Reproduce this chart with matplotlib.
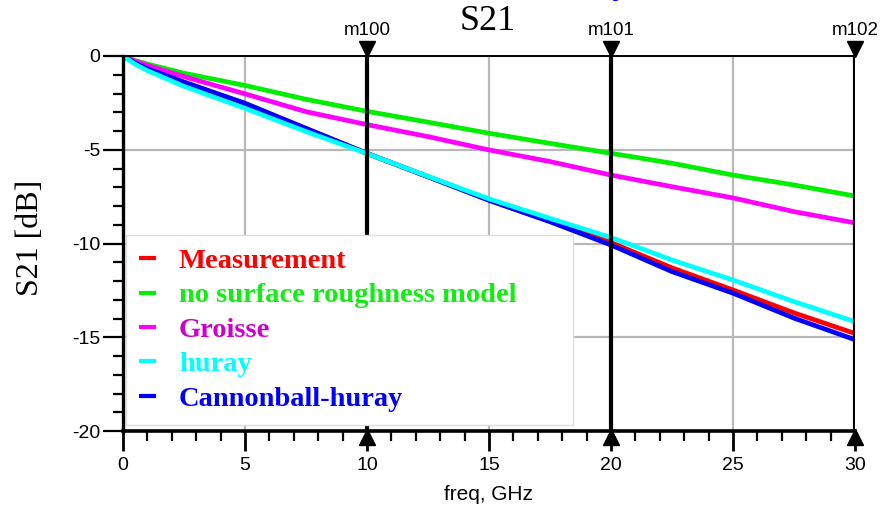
import matplotlib
matplotlib.use("Agg")
import matplotlib.pyplot as plt
import matplotlib.transforms as mtransforms
from matplotlib.ticker import MultipleLocator

# frequency points (GHz) and S21 values (dB)
freq = [0, 0.5, 1, 2.5, 5, 7.5, 10, 12.5, 15, 17.5, 20, 22.5, 25, 27.5, 30]
measurement = [0, -0.38, -0.68, -1.4, -2.55, -3.87, -5.2, -6.44, -7.68, -8.8, -9.95, -11.3, -12.48, -13.7, -14.8]
no_roughness = [0, -0.24, -0.43, -0.92, -1.57, -2.31, -2.95, -3.53, -4.12, -4.66, -5.19, -5.72, -6.35, -6.88, -7.47]
groisse = [0, -0.28, -0.5, -1.1, -2.02, -2.97, -3.66, -4.3, -5.01, -5.63, -6.35, -6.97, -7.57, -8.3, -8.9]
huray = [0, -0.44, -0.78, -1.62, -2.79, -4.03, -5.2, -6.42, -7.62, -8.66, -9.68, -10.88, -11.95, -13.1, -14.17]
cannonball = [0, -0.38, -0.68, -1.39, -2.52, -3.86, -5.19, -6.44, -7.7, -8.84, -10.08, -11.5, -12.65, -13.98, -15.13]

labels = ["Measurement", "no surface roughness model", "Groisse", "huray", "Cannonball-huray"]
line_colors = ["#ff0000", "#00ee00", "#ff00ff", "#00ffff", "#0000ff"]
text_colors = ["#ff0000", "#11ee11", "#cc00cc", "#00ffff", "#0000ff"]

markers = [10, 20, 30]
marker_names = ["m100", "m101", "m102"]

plt.rcParams['font.family'] = ['Liberation Sans', 'DejaVu Sans']
plt.rcParams['axes.unicode_minus'] = False

fig = plt.figure(figsize=(8.85, 5.12), dpi=100)
ax = fig.add_axes([123/885, 1 - 431/512, 732/885, 375/512])

series = [measurement, no_roughness, groisse, huray, cannonball]
order = [0, 1, 2, 4, 3]
handles = [None] * 5
for k in order:
    h, = ax.plot(freq, series[k], color=line_colors[k], lw=3.4, zorder=3,
                 solid_capstyle='butt', label=labels[k])
    handles[k] = h

ax.set_xlim(0, 30)
ax.set_ylim(-20, 0)
ax.xaxis.set_major_locator(MultipleLocator(5))
ax.xaxis.set_minor_locator(MultipleLocator(1))
ax.yaxis.set_major_locator(MultipleLocator(5))
ax.yaxis.set_minor_locator(MultipleLocator(1))
ax.grid(True, which='major', color='#b8b8b8', lw=1.6, zorder=1)
ax.set_axisbelow(True)

ax.tick_params(which='major', direction='out', length=14.4, width=1.6, color='black',
               labelsize=14, pad=2)
ax.tick_params(which='minor', direction='out', length=7.2, width=1.6, color='black')
ax.tick_params(axis='x', which='major', width=2.0, pad=4)

ax.spines['right'].set_visible(False)
ax.spines['left'].set_linewidth(2.4)
ax.spines['bottom'].set_linewidth(2.6)
ax.spines['top'].set_linewidth(1.4)
for s in ax.spines.values():
    s.set_zorder(4)

# markers
up = mtransforms.offset_copy(ax.transData, fig=fig, x=0, y=7, units='dots')
down = mtransforms.offset_copy(ax.transData, fig=fig, x=0, y=-6, units='dots')
for m, name in zip(markers, marker_names):
    ax.axvline(m, color='black', lw=3.0, zorder=5)
    ax.plot([m], [0], marker='v', color='black', markersize=12, clip_on=False, zorder=6,
            transform=up)
    ax.plot([m], [-20], marker='^', color='black', markersize=12, clip_on=False, zorder=6,
            transform=down)
    ax.annotate(name, xy=(m, 0), xytext=(0, 12), textcoords='offset points',
                ha='center', va='bottom', fontsize=13.5)

leg = ax.legend(handles=handles, loc='lower left',
                bbox_to_anchor=(0.004, 0.016, 0.611, 0.507), mode='expand',
                prop={'family': 'Liberation Serif', 'weight': 'bold', 'size': 20.5},
                labelcolor=text_colors, handlelength=0.6, handletextpad=0.8,
                labelspacing=0.30, borderpad=0.46, borderaxespad=0,
                fancybox=False, framealpha=1, edgecolor='#dddddd')
leg.set_zorder(7)
leg.get_frame().set_linewidth(1.0)
for lh in leg.get_lines():
    lh.set_linewidth(3.0)

fig.text(488/885, 1 - 495/512, "freq, GHz", fontsize=15, ha='center', va='center')
fig.text(30/885, 1 - 238/512, "S21 [dB]", family='Liberation Serif', fontsize=23,
         rotation=90, ha='center', va='center')
fig.text(488/885, 1 - 22/512, "S21", family='Liberation Serif', fontsize=26,
         ha='center', va='center')
fig.text(621/885, 1 + 7/512, "y", family='Liberation Serif', fontsize=26, weight='bold',
         color='#0000ff', ha='center', va='baseline')

fig.savefig("out.png", dpi=100)
